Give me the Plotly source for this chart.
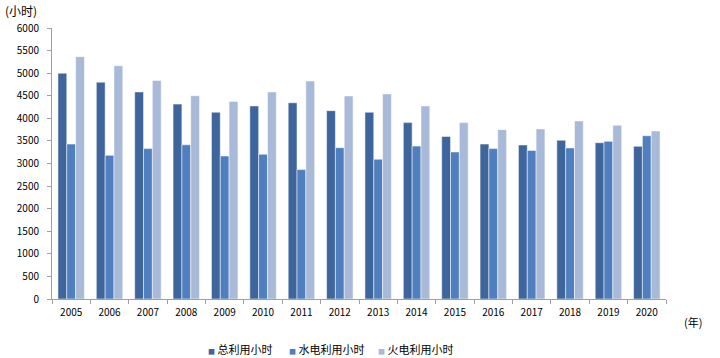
import plotly.graph_objects as go

years = [str(y) for y in range(2005, 2021)]
total = [5000, 4800, 4585, 4315, 4135, 4275, 4345, 4170, 4135, 3905, 3600, 3430, 3410, 3515, 3460, 3380]
hydro = [3430, 3180, 3330, 3415, 3165, 3205, 2865, 3350, 3095, 3385, 3255, 3330, 3290, 3345, 3490, 3615]
thermal = [5365, 5165, 4840, 4500, 4375, 4585, 4825, 4495, 4540, 4275, 3905, 3750, 3765, 3940, 3845, 3720]

names = ["总利用小时", "水电利用小时", "火电利用小时"]
colors = ["#3F669C", "#4F7FBF", "#A9B9D8"]

fig = go.Figure()
for name, vals, c in zip(names, [total, hydro, thermal], colors):
    fig.add_trace(go.Bar(x=years, y=vals, name=name,
                         marker=dict(color=c, line=dict(color="white", width=0.5))))

font = "Noto Sans CJK SC, DejaVu Sans, sans-serif"
L, R, T, B = 52, 54, 28, 59
pw, ph = 720 - L - R, 358 - T - B

def px(x):
    return (x - L) / pw

def py(y):
    return 1 - (y - T) / ph

annotations = [
    dict(text="(小时)", x=px(3), y=py(11), xref="paper", yref="paper", showarrow=False,
         xanchor="left", yanchor="middle", font=dict(size=12)),
    dict(text="(年)", x=px(693), y=py(322), xref="paper", yref="paper", showarrow=False,
         xanchor="center", yanchor="middle", font=dict(size=11)),
]
# legend entries (small square marker + label), positioned as in the reference
legend_x = [206, 287, 376]
for name, c, lx in zip(names, colors, legend_x):
    annotations.append(dict(
        text=f"<span style='color:{c};font-size:7px'>■</span> {name}",
        x=px(lx), y=py(349), xref="paper", yref="paper", showarrow=False,
        xanchor="left", yanchor="middle", font=dict(size=11)))

fig.update_layout(
    width=720, height=358,
    margin=dict(l=L, r=R, t=T, b=B, autoexpand=False),
    paper_bgcolor="white", plot_bgcolor="white",
    barmode="group", bargap=0.31, bargroupgap=0,
    font=dict(family=font, size=10, color="#000000"),
    showlegend=False,
    xaxis=dict(type="category", showline=True, linecolor="#A0A0A0", linewidth=1,
               ticks="outside", tickson="boundaries", ticklen=4, tickcolor="#A0A0A0",
               showgrid=False, tickfont=dict(size=10), ticklabelstandoff=4),
    yaxis=dict(range=[0, 6000], tickvals=list(range(0, 6001, 500)), showline=True,
               linecolor="#A0A0A0", linewidth=1, ticks="outside", ticklen=4,
               tickcolor="#A0A0A0", showgrid=False, zeroline=False,
               tickfont=dict(size=10), ticklabelstandoff=6),
    annotations=annotations,
)

fig.write_html("out.html", config={"displayModeBar": False},
               post_script="document.body.style.margin='0';document.body.style.overflow='hidden';")
